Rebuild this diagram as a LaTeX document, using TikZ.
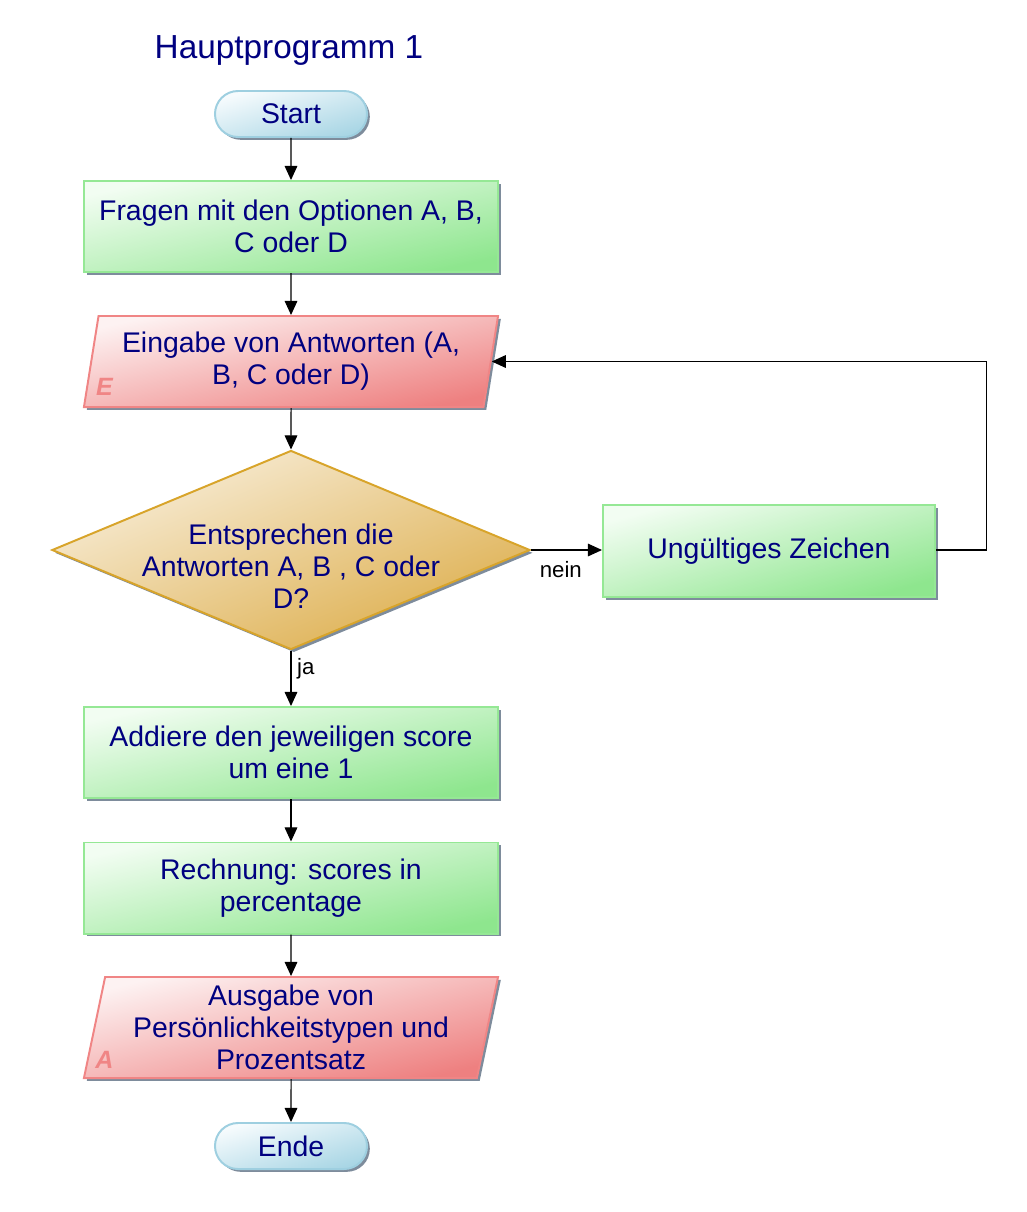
\documentclass[tikz,border=0pt]{standalone}
\usepackage{fontspec}
\setmainfont{Liberation Sans}
\usepackage{xcolor}
\usepackage{tikz}
\usetikzlibrary{positioning}
\usetikzlibrary{shapes.geometric,shapes.misc}
\usetikzlibrary{shadows,arrows.meta}

\definecolor{txtblue}{HTML}{000080}
\definecolor{shadowgray}{HTML}{7E8C9C}
\definecolor{pillline}{HTML}{9ECFE0}
\definecolor{pilldark}{HTML}{A9D6E5}
\definecolor{pilllight}{HTML}{F6FBFD}
\definecolor{greenline}{HTML}{95E895}
\definecolor{greendark}{HTML}{8EE68E}
\definecolor{greenlight}{HTML}{F2FDF2}
\definecolor{redline}{HTML}{F08585}
\definecolor{reddark}{HTML}{EE8080}
\definecolor{redlight}{HTML}{FDF2F2}
\definecolor{goldline}{HTML}{D8A42A}
\definecolor{golddark}{HTML}{DDAE4C}
\definecolor{goldlight}{HTML}{F8EEDA}

\begin{document}
\begin{tikzpicture}[x=0.025cm, y=-0.025cm,
  boxtext/.style={font=\fontsize{20.2}{22.8}\selectfont, text=txtblue, align=center},
  shadowed/.style={drop shadow={shadow xshift=2pt, shadow yshift=-2pt, fill=shadowgray, opacity=1}},
  terminal/.style={boxtext, rounded rectangle, shadowed, draw=pillline, line width=1.4pt,
    top color=pilllight, bottom color=pilldark, shading angle=16.8,
    minimum width=3.8cm, minimum height=1.15cm, inner sep=0pt},
  process/.style={boxtext, rectangle, shadowed, draw=greenline, line width=1.4pt,
    top color=greenlight, bottom color=greendark, shading angle=12.4,
    minimum width=10.35cm, minimum height=2.275cm, inner sep=0pt},
  inout/.style={boxtext, trapezium, trapezium left angle=76, trapezium right angle=104,
    trapezium stretches body, shadowed, draw=redline, line width=1.4pt,
    top color=redlight, bottom color=reddark, shading angle=12.4,
    minimum width=10.35cm, minimum height=2.275cm, inner sep=0pt},
  decision/.style={diamond, shadowed, draw=goldline, line width=1.4pt,
    top color=goldlight, bottom color=golddark, shading angle=22.6,
    minimum width=11.95cm, minimum height=4.975cm, inner sep=0pt},
  ioletter/.style={font=\fontsize{17.8}{20}\selectfont\bfseries\itshape, text=redline, inner sep=0pt},
  flowlabel/.style={font=\fontsize{15.8}{18}\selectfont, text=black, inner sep=4pt},
  arr/.style={-{Triangle[length=10pt, width=9pt]}, line width=0.75pt, black}]

\useasboundingbox (0,0) rectangle (1027,1212);

\node at (289,50) [font=\fontsize{23.7}{26}\selectfont, text=txtblue] (title) {Hauptprogramm 1};

\node at (291,114) [terminal] (start) {Start};
\node at (291,226.5) [process] (fragen) {Fragen mit den Optionen A, B,\\C oder D};
\node at (291,361.5) [inout] (eingabe) {Eingabe von Antworten (A,\\B, C oder D)};
\node at (104.5,387) [ioletter] (eingabeE) {E};
\node at (291,550) [decision] (check) {};
\node at (291,566) [boxtext] (checktext) {Entsprechen die\\Antworten A, B , C oder\\D?};
\node at (769,551) [process, minimum width=8.3cm, minimum height=2.3cm, shading angle=15.5] (ungueltig) {Ungültiges Zeichen};
\node at (291,752.5) [process] (addiere) {Addiere den jeweiligen score\\um eine 1};
\node at (291,888) [process] (rechnung) {Rechnung: scores in\\percentage};
\node at (291,1027.5) [inout, minimum height=2.525cm, shading angle=13.7] (ausgabe) {Ausgabe von\\Persönlichkeitstypen und\\Prozentsatz};
\node at (104.5,1060) [ioletter] (ausgabeA) {A};
\node at (291,1146) [terminal] (ende) {Ende};

\draw[arr] (start) -- (fragen);
\draw[arr] (fragen) -- (eingabe);
\draw[arr] (eingabe) -- (check);
\draw[arr] (check) -- node[flowlabel, right, pos=0.33] {ja} (addiere);
\draw[arr] (check.east) -- node[flowlabel, below, pos=0.42, yshift=-4pt] {nein} (check.east -| ungueltig.west);
\draw[arr] (ungueltig.east |- check.east) -- ++(50,0) |- (eingabe.east);
\draw[arr] (addiere) -- (rechnung);
\draw[arr] (rechnung) -- (ausgabe);
\draw[arr] (ausgabe) -- (ende);
\end{tikzpicture}
\end{document}
